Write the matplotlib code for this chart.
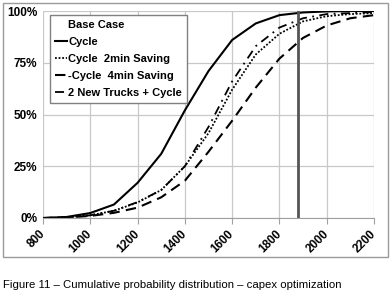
import matplotlib
matplotlib.use('Agg')
import matplotlib.pyplot as plt
from matplotlib.patches import Rectangle

plt.rcParams['font.family'] = ['Liberation Sans', 'DejaVu Sans']

# 数据
capex = [800, 900, 1000, 1100, 1200, 1300, 1400, 1500, 1600, 1700, 1800, 1900, 2000, 2100, 2200]
cycle = [0, 0.5, 2.4, 6.5, 17, 31, 52, 71, 86, 94, 98, 99.3, 99.8, 100, 100]
cycle_2min = [0, 0.3, 1.3, 3.5, 7.5, 13.5, 25, 41, 62, 79, 89, 95, 97.5, 98.5, 99]
cycle_4min = [0, 0.3, 1, 2.5, 5, 10, 18, 32, 47, 63, 77, 87, 93, 96.5, 98]
new_trucks = [0, 0.3, 1.3, 3.5, 7.7, 13.5, 25, 44, 66, 83, 92, 96.5, 98.5, 99, 99.5]
marker_x = 1880
xticks = [800, 1000, 1200, 1400, 1600, 1800, 2000, 2200]
yticks = [0, 25, 50, 75, 100]

fig = plt.figure(figsize=(3.91, 2.95), dpi=100)
# 外框
fig.patches.append(Rectangle((3 / 391, 1 - 257 / 295), 385 / 391, 254 / 295, transform=fig.transFigure,
                             fill=False, edgecolor='#9a9a9a', linewidth=1))
ax = fig.add_axes([43 / 391, 1 - 218 / 295, 331 / 391, 207 / 295])

# 图例第一行 "Base Case" 是一个没有线的系列
ax.plot([], [], color='none', label='Base Case')
ax.plot(capex, cycle, color='black', linewidth=1.5, label='Cycle')
ax.plot(capex, cycle_2min, color='black', linewidth=1.3, linestyle=(0, (1, 1)), label='Cycle  2min Saving')
ax.plot(capex, cycle_4min, color='black', linewidth=1.5, linestyle=(0, (5, 3)), label='-Cycle  4min Saving')
ax.plot(capex, new_trucks, color='black', linewidth=1.3, linestyle=(0, (5, 3, 1, 3)), label='2 New Trucks + Cycle')
ax.plot([marker_x, marker_x], [0, 100], color='#555555', linewidth=2)

ax.set_xlim(800, 2200)
ax.set_ylim(0, 100)
ax.set_xticks(xticks)
ax.set_yticks(yticks)
ax.set_xticklabels([str(v) for v in xticks], rotation=45, fontweight='bold', fontsize=8.5,
                   ha='right', va='center', rotation_mode='anchor')
ax.set_yticklabels(['%d%%' % v for v in yticks], fontweight='bold', fontsize=8.5)
ax.grid(color='#c8c8c8', linewidth=0.9)
ax.set_axisbelow(True)
for s in ['top', 'right', 'left']:
    ax.spines[s].set_visible(False)
ax.spines['bottom'].set_color('#a0a0a0')
ax.tick_params(axis='y', length=0, pad=4)
ax.tick_params(axis='x', length=4, color='#a0a0a0', pad=6)

leg = ax.legend(loc='upper left', bbox_to_anchor=(0.021, 0.98), fancybox=False,
                edgecolor='#808080', framealpha=1, handlelength=1.1, handletextpad=0.1,
                borderpad=0.45, labelspacing=0.62, borderaxespad=0,
                prop={'weight': 'bold', 'size': 8})
leg.get_frame().set_linewidth(1)

fig.text(3 / 391, 1 - 285 / 295, 'Figure 11 \u2013 Cumulative probability distribution \u2013 capex optimization',
         fontsize=8.2, va='center', ha='left')

fig.savefig('out.png', dpi=100)
